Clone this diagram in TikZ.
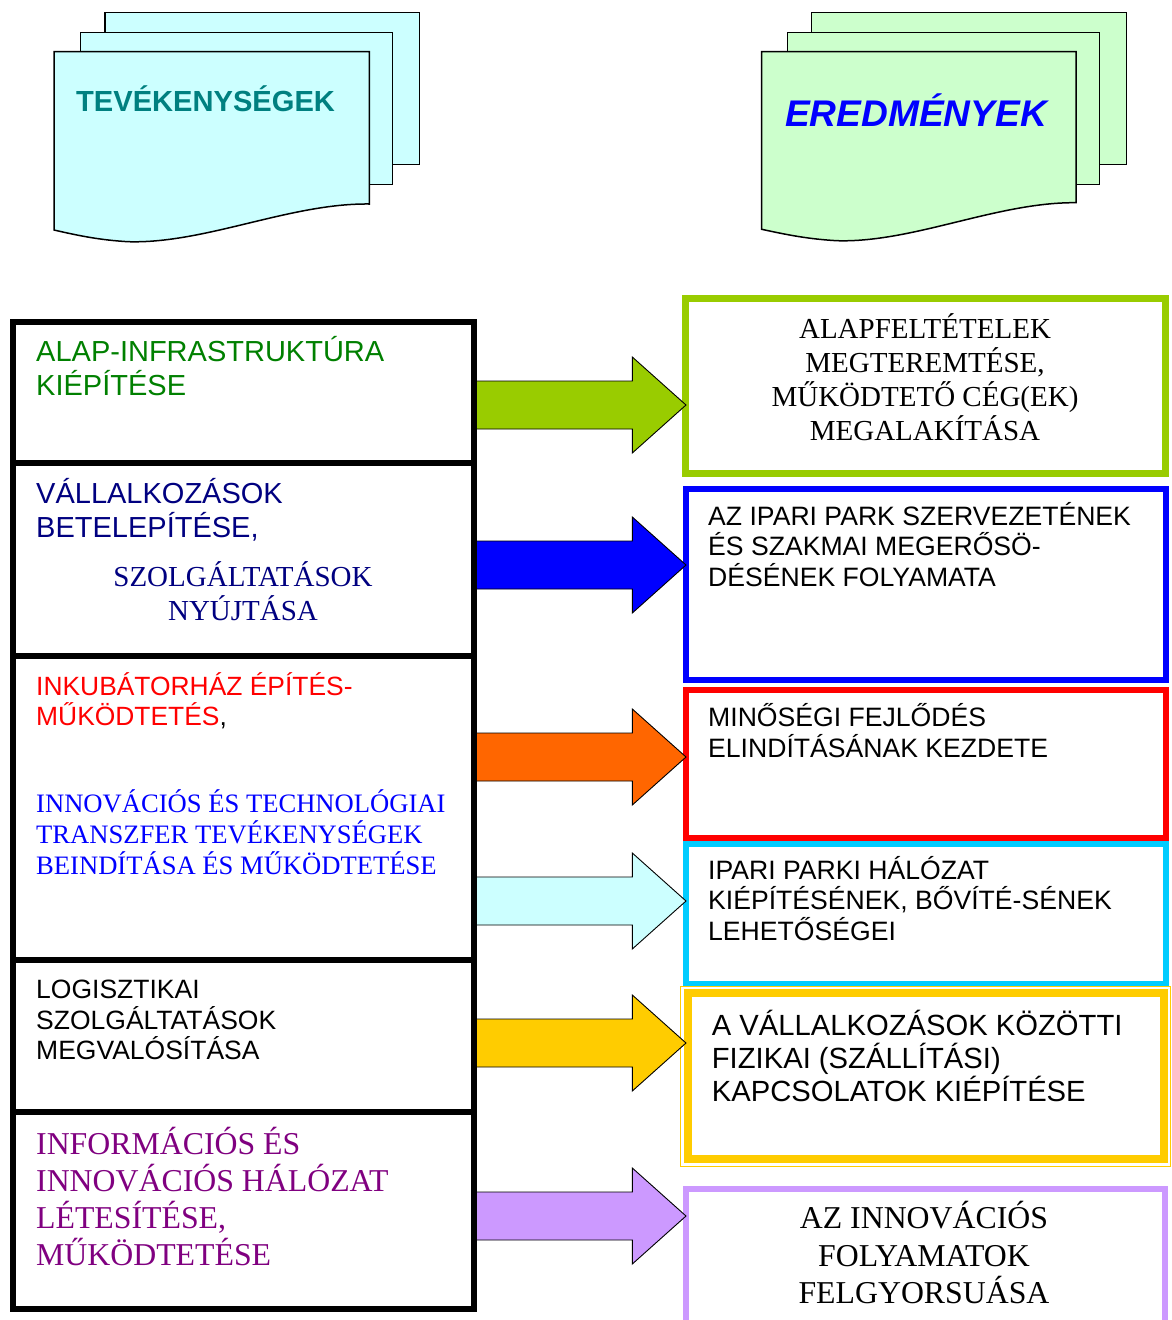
\documentclass[tikz,border=0pt]{standalone}
\usepackage{fontspec}
\setmainfont{Liberation Serif}
\setsansfont{Liberation Sans}
\definecolor{lgreen}{HTML}{99CC00}
\definecolor{dgreen}{HTML}{008000}
\definecolor{navyc}{HTML}{000080}
\definecolor{purp}{HTML}{800080}
\definecolor{orangec}{HTML}{FF6600}
\definecolor{lcyan}{HTML}{CCFFFF}
\definecolor{cyanb}{HTML}{00CCFF}
\definecolor{yell}{HTML}{FFCC00}
\definecolor{lilac}{HTML}{CC99FF}
\definecolor{mint}{HTML}{CCFFCC}
\definecolor{tealc}{HTML}{008080}
\newcommand\mybox[6]{\node[#6, minimum width={#4-#2}, minimum height={#5-#3}, inner sep=0pt, outer sep=0pt] (#1) at ({(#2+#4)/2},{(#3+#5)/2}) {};}
\begin{document}
\begin{tikzpicture}[x=1pt,y=-1pt,
  page/.style={draw=black, line width=1.5pt, line join=miter},
  lbox/.style={draw=black, line width=6pt, fill=white},
  rbox/.style={draw=#1, line width=6pt, fill=white},
  txt/.style={inner sep=0pt, anchor=base west, align=left},
  ctxt/.style={inner sep=0pt, anchor=base, align=center},
  blk/.style={draw=black, line width=0.9pt, line join=miter}]
\clip (0,0) rectangle (1172,1320);
\fill[white] (0,0) rectangle (1172,1320);
% left multidocument
\draw[page, fill=lcyan] (105,12.7) rectangle (419.3,164.3);
\draw[page, fill=lcyan] (80.7,32.3) rectangle (392.7,184.3);
\draw[page, fill=lcyan] (54,51.7) -- (369.3,51.7) -- (369.3,204)
  .. controls (290,203) and (205,244) .. (128,241.7)
  .. controls (100,240) and (80,236) .. (54,230) -- cycle;
% right multidocument
\draw[page, fill=mint] (811.7,12.7) rectangle (1126.7,164.3);
\draw[page, fill=mint] (787.3,32.3) rectangle (1099.3,184.3);
\draw[page, fill=mint] (761.7,51.7) -- (1076,51.7) -- (1076,202.7)
  .. controls (997,202) and (913,243) .. (836.7,240.7)
  .. controls (808,239) and (788,235) .. (761.7,229.3) -- cycle;
\node[txt, font=\sffamily\bfseries\fontsize{29.1}{34}\selectfont, text=tealc] (h1) at (76,111) {TEVÉKENYSÉGEK};
\node[txt, font=\sffamily\bfseries\itshape\fontsize{37.1}{44}\selectfont, text=blue] (h2) at (785,126) {EREDMÉNYEK};
% right boxes
\mybox{R1}{685.5}{298.5}{1165.5}{473.7}{rbox=lgreen, line width=7pt}
\mybox{R2}{685.5}{489}{1166}{679.7}{rbox=blue}
\mybox{R3}{685.5}{690.3}{1165.5}{837.5}{rbox=red}
\mybox{R4}{685.5}{843.8}{1165.5}{984}{rbox=cyanb}
\mybox{R5o}{680.5}{986}{1170.7}{1166.7}{rbox=yell, line width=1pt}
\mybox{R5}{688}{993}{1164.2}{1158.9}{rbox=yell, line width=8pt}
\mybox{R6}{686}{1188.5}{1165}{1360}{rbox=lilac}
% block arrows
\foreach \yy/\cc in {405/lgreen, 565/blue, 757/orangec, 901/lcyan, 1043/yell, 1216/lilac}{
  \draw[blk, fill=\cc] (470,{\yy-24}) -- (632.3,{\yy-24}) -- (632.3,{\yy-48}) -- (686,\yy)
    -- (632.3,{\yy+48}) -- (632.3,{\yy+24}) -- (470,{\yy+24}) -- cycle;
}
% left boxes
\mybox{L1}{13}{322}{474}{463}{lbox}
\mybox{L2}{13}{463}{474}{656}{lbox}
\mybox{L3}{13}{656}{474}{960}{lbox}
\mybox{L4}{13}{960}{474}{1112}{lbox}
\mybox{L5}{13}{1112}{474}{1309}{lbox}
% left texts (anchor = baseline of last line)
\node[txt, font=\sffamily\fontsize{29}{34}\selectfont, text=dgreen] (t1) at (36,395.7) {ALAP-INFRASTRUKTÚRA\\KIÉPÍTÉSE};
\node[txt, font=\sffamily\fontsize{29}{34}\selectfont, text=navyc] (t2a) at (36,537.3) {VÁLLALKOZÁSOK\\BETELEPÍTÉSE,};
\node[ctxt, font=\rmfamily\fontsize{29}{33.3}\selectfont, text=navyc] (t2b) at (243,620) {SZOLGÁLTATÁSOK\\NYÚJTÁSA};
\node[txt, font=\sffamily\fontsize{26.4}{30.7}\selectfont] (t3a) at (36,725.7) {\textcolor{red}{INKUBÁTORHÁZ ÉPÍTÉS-}\\\textcolor{red}{MŰKÖDTETÉS},};
\node[txt, font=\rmfamily\fontsize{26.6}{31.3}\selectfont, text=blue] (t3b) at (36,874.9) {INNOVÁCIÓS ÉS TECHNOLÓGIAI\\TRANSZFER TEVÉKENYSÉGEK\\BEINDÍTÁSA ÉS MŰKÖDTETÉSE};
\node[txt, font=\sffamily\fontsize{26.5}{30.8}\selectfont] (t4) at (36,1059.9) {LOGISZTIKAI\\SZOLGÁLTATÁSOK\\MEGVALÓSÍTÁSA};
\node[txt, font=\rmfamily\fontsize{31.8}{37}\selectfont, text=purp] (t5) at (36,1265) {INFORMÁCIÓS ÉS\\INNOVÁCIÓS HÁLÓZAT\\LÉTESÍTÉSE,\\MŰKÖDTETÉSE};
% right texts
\node[ctxt, font=\rmfamily\fontsize{29}{34}\selectfont] (r1) at (925,440.3) {ALAPFELTÉTELEK\\MEGTEREMTÉSE,\\MŰKÖDTETŐ CÉG(EK)\\MEGALAKÍTÁSA};
\node[txt, font=\sffamily\fontsize{26.6}{30.5}\selectfont] (r2) at (708,586) {AZ IPARI PARK SZERVEZETÉNEK\\ÉS SZAKMAI MEGERŐSÖ-\\DÉSÉNEK FOLYAMATA};
\node[txt, font=\sffamily\fontsize{26.6}{31}\selectfont] (r3) at (708,757.7) {MINŐSÉGI FEJLŐDÉS\\ELINDÍTÁSÁNAK KEZDETE};
\node[txt, font=\sffamily\fontsize{26.6}{30.4}\selectfont] (r4) at (708,940.1) {IPARI PARKI HÁLÓZAT\\KIÉPÍTÉSÉNEK, BŐVÍTÉ-SÉNEK\\LEHETŐSÉGEI};
\node[txt, font=\sffamily\fontsize{29.2}{33.3}\selectfont] (r5) at (711.7,1101.6) {A VÁLLALKOZÁSOK KÖZÖTTI\\FIZIKAI (SZÁLLÍTÁSI)\\KAPCSOLATOK KIÉPÍTÉSE};
\node[ctxt, font=\rmfamily\fontsize{31.8}{37.8}\selectfont] (r6) at (924,1303.9) {AZ INNOVÁCIÓS\\FOLYAMATOK\\FELGYORSUÁSA};
\end{tikzpicture}
\end{document}
